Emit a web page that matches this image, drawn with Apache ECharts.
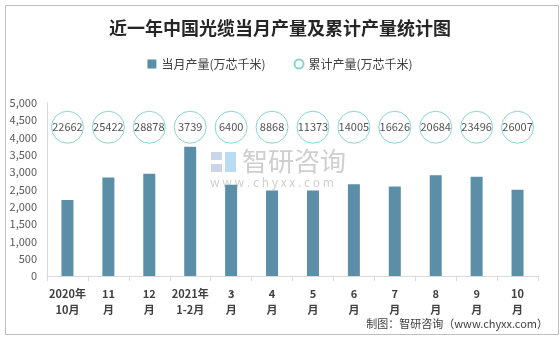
<!DOCTYPE html>
<html><head><meta charset="utf-8">
<script src="https://cdn.jsdelivr.net/npm/echarts@6/dist/echarts.min.js"></script>
<style>html,body{margin:0;padding:0;background:#fff}#c{width:560px;height:337px}</style>
</head><body><div id="c"></div>
<script>
const categories = ['2020年\n10月','11\n月','12\n月','2021年\n1-2月','3\n月','4\n月','5\n月','6\n月','7\n月','8\n月','9\n月','10\n月'];
const monthly = [2200, 2846, 2953, 3739, 2640, 2468, 2470, 2650, 2590, 2915, 2866, 2490];
const cumulative = [22662, 25422, 28878, 3739, 6400, 8868, 11373, 14005, 16626, 20684, 23496, 26007];
const yTicks = [0, 500, 1000, 1500, 2000, 2500, 3000, 3500, 4000, 4500, 5000];
const circleLevel = 4300;

const chart = echarts.init(document.getElementById('c'), null, {renderer:'canvas'});
const font = '"Noto Sans CJK SC", "Noto Sans", sans-serif';
chart.setOption({
  animation:false,
  backgroundColor:'#fff',
  title:{text:'近一年中国光缆当月产量及累计产量统计图',left:'center',top:14,
    textStyle:{fontFamily:font,fontSize:18,fontWeight:'bold',color:'#262626'}},
  legend:{top:53,left:'center',itemGap:28,itemWidth:9,itemHeight:9,
    textStyle:{fontFamily:font,fontSize:12,color:'#404040'},
    data:[{name:'当月产量(万芯千米)',icon:'rect'},{name:'累计产量(万芯千米)',icon:'circle'}]},
  grid:{left:47,right:22,top:103,bottom:61},
  xAxis:{type:'category',data:categories,
    axisLine:{lineStyle:{color:'#d9d9d9'}},
    axisTick:{show:true,length:5,lineStyle:{color:'#d9d9d9'}},
    axisLabel:{fontFamily:font,fontSize:11,fontWeight:'bold',color:'#404040',lineHeight:16,margin:10,interval:0}},
  yAxis:{type:'value',min:yTicks[0],max:yTicks[yTicks.length-1],interval:500,
    axisLine:{show:true,lineStyle:{color:'#d9d9d9'}},
    axisTick:{show:false},splitLine:{show:false},
    axisLabel:{fontFamily:font,fontSize:11,color:'#595959',margin:10,
      formatter:v=>v.toLocaleString('en-US')}},
  series:[
    {name:'当月产量(万芯千米)',type:'bar',data:monthly,barWidth:12,
      itemStyle:{color:'#5b8fa7'}},
    {name:'累计产量(万芯千米)',type:'scatter',symbol:'circle',symbolSize:32,
      data:cumulative.map((c,i)=>({value:[i,circleLevel],label:String(c)})),
      itemStyle:{color:'rgba(255,255,255,0)',borderColor:'#6cc9c6',borderWidth:1},
      label:{show:true,position:'inside',formatter:p=>p.data.label,
        fontFamily:font,fontSize:11,color:'#262626'}}
  ],
  graphic:[
    {type:'rect',left:3,top:3,shape:{width:553,height:329},
      style:{fill:'none',stroke:'#bfbfbf',lineWidth:1},z:-1},
    {type:'text',left:242,top:148,z:0,style:{text:'智研咨询',fontFamily:font,fontSize:26,fill:'#cfcfcf'}},
    {type:'text',left:210,top:176,z:0,style:{text:'w w w . c h y x x . c o m',fontFamily:font,fontSize:12,fill:'#cfcfcf'}},
    {type:'rect',left:211,top:152,z:0,shape:{width:11,height:8},style:{fill:'#c9d6e8'}},
    {type:'rect',left:211,top:164,z:0,shape:{width:11,height:8},style:{fill:'#c9d6e8'}},
    {type:'rect',left:225,top:152,z:0,shape:{width:11,height:20},style:{fill:'#b9dcf0'}},
    {type:'text',right:12,top:318,style:{text:'制图：智研咨询（www.chyxx.com）',fontFamily:font,fontSize:11,fill:'#404040'}}
  ]
});
</script></body></html>
